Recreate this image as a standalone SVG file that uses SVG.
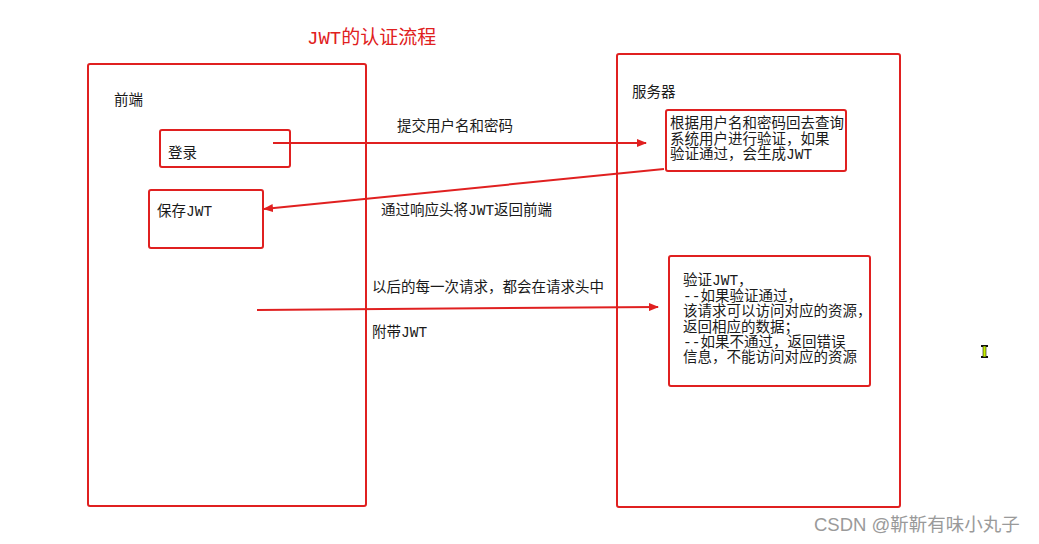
<svg xmlns="http://www.w3.org/2000/svg" width="1039" height="544" viewBox="0 0 1039 544">
<style>
.box{fill:none;stroke:#e02020;stroke-width:2}
.t{font-family:"Liberation Mono","Noto Sans CJK SC",sans-serif;font-size:14.5px;fill:#1a1a1a}
.ln{stroke:#e02020;stroke-width:2;fill:none}
</style>
<defs>
<marker id="ah" markerWidth="10" markerHeight="8" refX="9" refY="4" orient="auto" markerUnits="userSpaceOnUse">
<path d="M0,0 L10,4 L0,8 Z" fill="#e02020"/>
</marker>
</defs>
<rect width="1039" height="544" fill="#fff"/>
<text x="307" y="44" style="font-family:'Liberation Mono','Noto Sans CJK SC',sans-serif;font-size:19px;fill:#e02020">JWT的认证流程</text>
<g id="frontend">
<rect class="box" x="88" y="64" width="278" height="442" rx="2"/>
<text class="t" x="114" y="105">前端</text>
</g>
<g id="login">
<rect class="box" x="160" y="130" width="130" height="37" rx="2"/>
<text class="t" x="168" y="158">登录</text>
</g>
<g id="save">
<rect class="box" x="149" y="190" width="114" height="58" rx="2"/>
<text class="t" x="157" y="216">保存JWT</text>
</g>
<g id="server">
<rect class="box" x="617" y="54" width="283" height="453" rx="2"/>
<text class="t" x="632" y="97">服务器</text>
</g>
<g id="verify1">
<rect class="box" x="666" y="110" width="180" height="61" rx="2"/>
<text class="t" x="670" y="128">根据用户名和密码回去查询</text>
<text class="t" x="670" y="144">系统用户进行验证，如果</text>
<text class="t" x="670" y="159">验证通过，会生成JWT</text>
</g>
<g id="verify2">
<rect class="box" x="669" y="256" width="201" height="130" rx="2"/>
<text class="t" x="683" y="285">验证JWT，</text>
<text class="t" x="683" y="301">--如果验证通过，</text>
<text class="t" x="683" y="316">该请求可以访问对应的资源，</text>
<text class="t" x="683" y="332">返回相应的数据；</text>
<text class="t" x="683" y="347">--如果不通过，返回错误</text>
<text class="t" x="683" y="362">信息，不能访问对应的资源</text>
</g>
<g id="connectors">
<line class="ln" x1="273" y1="143" x2="646" y2="143" marker-end="url(#ah)"/>
<line class="ln" x1="664" y1="169" x2="264" y2="209" marker-end="url(#ah)"/>
<line class="ln" x1="257" y1="310" x2="658" y2="307" marker-end="url(#ah)"/>
<text class="t" x="397" y="131">提交用户名和密码</text>
<text class="t" x="381" y="215">通过响应头将JWT返回前端</text>
<text class="t" x="372" y="292">以后的每一次请求，都会在请求头中</text>
<text class="t" x="372" y="337">附带JWT</text>
</g>
<g id="cursor">
<rect x="981" y="345" width="7" height="2" fill="#111"/>
<rect x="981" y="356" width="7" height="2" fill="#111"/>
<rect x="983" y="346" width="3" height="11" fill="#c8f000" stroke="#111" stroke-width="0.6"/>
</g>
<text x="814" y="531" style="font-family:'Liberation Sans','Noto Sans CJK SC',sans-serif;font-size:18.5px;fill:#9a9a9a">CSDN @靳靳有味小丸子</text>
</svg>
